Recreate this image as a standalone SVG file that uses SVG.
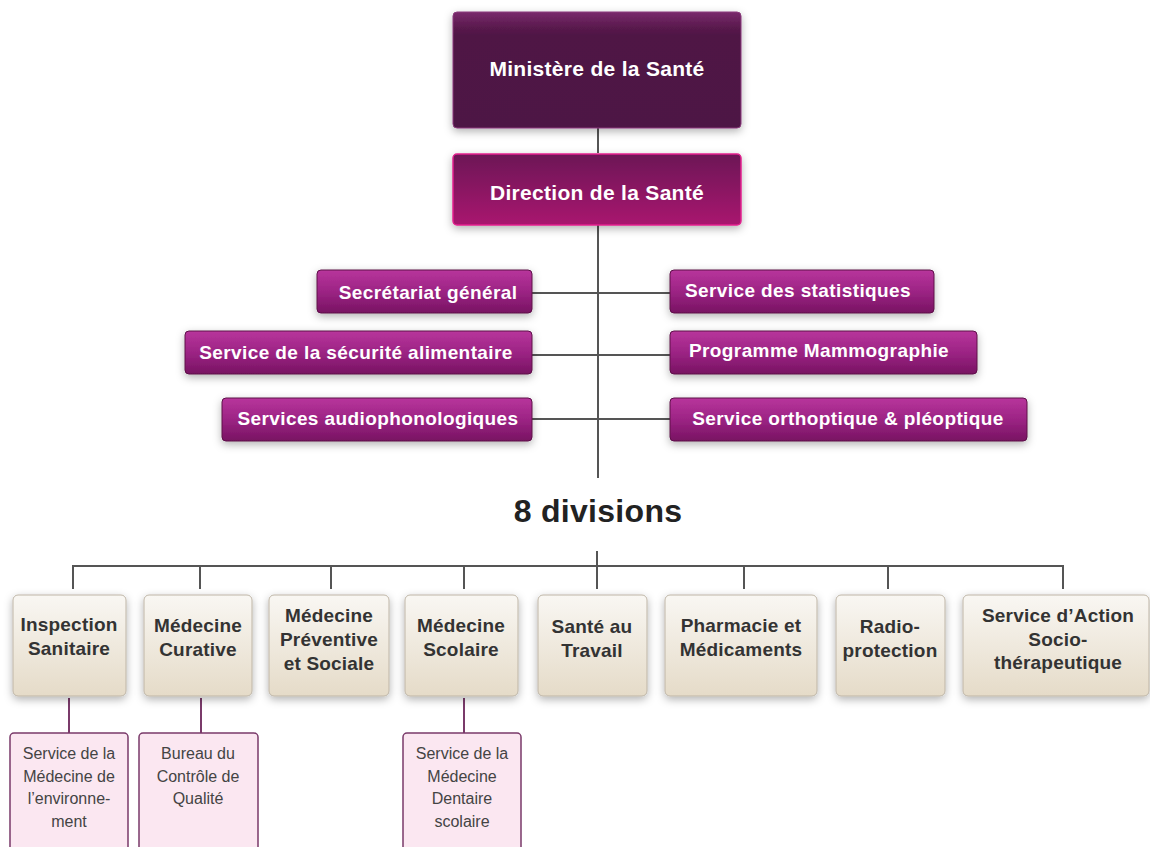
<svg xmlns="http://www.w3.org/2000/svg" width="1150" height="847" viewBox="0 0 1150 847">
<defs>
<linearGradient id="gMin" x1="0" y1="0" x2="0" y2="1">
<stop offset="0" stop-color="#7a2a6c"/><stop offset="0.13" stop-color="#5a1a4e"/><stop offset="0.2" stop-color="#4f1745"/><stop offset="1" stop-color="#4e1744"/>
</linearGradient>
<linearGradient id="gDir" x1="0" y1="0" x2="0" y2="1">
<stop offset="0" stop-color="#6c1656"/><stop offset="1" stop-color="#a9186f"/>
</linearGradient>
<linearGradient id="gSide" x1="0" y1="0" x2="0" y2="1">
<stop offset="0" stop-color="#b8359c"/><stop offset="0.5" stop-color="#9c2484"/><stop offset="1" stop-color="#781362"/>
</linearGradient>
<linearGradient id="gDiv" x1="0" y1="0" x2="0" y2="1">
<stop offset="0" stop-color="#f9f7f3"/><stop offset="1" stop-color="#e5dbc8"/>
</linearGradient>
<filter id="sh" x="-20%" y="-20%" width="140%" height="150%">
<feDropShadow dx="0" dy="3" stdDeviation="4" flood-color="#000" flood-opacity="0.3"/>
</filter>
</defs>
<style>
.wt{font-family:"Liberation Sans",Arial,sans-serif;font-weight:bold;fill:#fff;text-anchor:middle}
.big{font-size:21px;letter-spacing:0.3px}
.side{font-size:19px;letter-spacing:0.4px}
.dv{font-family:"Liberation Sans",Arial,sans-serif;font-weight:bold;fill:#333;font-size:19px;letter-spacing:0.2px;text-anchor:middle}
.sb{font-family:"Liberation Sans",Arial,sans-serif;fill:#444;font-size:16px;text-anchor:middle}
.bMin{fill:url(#gMin);stroke:#8a3a7c;stroke-width:1}
.bDir{fill:url(#gDir);stroke:#e2228e;stroke-width:1.5}
.bSide{fill:url(#gSide);stroke:#5e1049;stroke-width:1}
.bDiv{fill:url(#gDiv);stroke:#beb5a6;stroke-width:1}
.bSub{fill:#fbe7f1;stroke:#7a3a6a;stroke-width:1.5}
.ln{stroke:#555;stroke-width:2;fill:none}
.lp{stroke:#7a3a6a;stroke-width:2;fill:none}
</style>
<rect width="1150" height="847" fill="#fff"/>

<g id="connectors">
<line class="ln" x1="598" y1="128" x2="598" y2="153"/>
<line class="ln" x1="598" y1="225" x2="598" y2="478"/>
<line class="ln" x1="532" y1="293" x2="670" y2="293"/>
<line class="ln" x1="532" y1="355" x2="670" y2="355"/>
<line class="ln" x1="532" y1="419" x2="670" y2="419"/>
<line class="ln" x1="597" y1="551" x2="597" y2="566"/>
<path class="ln" d="M73 589 V566 H1063 V589"/>
<line class="ln" x1="200" y1="566" x2="200" y2="589"/>
<line class="ln" x1="331" y1="566" x2="331" y2="589"/>
<line class="ln" x1="464" y1="566" x2="464" y2="589"/>
<line class="ln" x1="597" y1="566" x2="597" y2="589"/>
<line class="ln" x1="744" y1="566" x2="744" y2="589"/>
<line class="ln" x1="888" y1="566" x2="888" y2="589"/>
<line class="lp" x1="69" y1="698" x2="69" y2="733"/>
<line class="lp" x1="201" y1="698" x2="201" y2="733"/>
<line class="lp" x1="464" y1="698" x2="464" y2="733"/>
</g>

<g id="ministere">
<rect class="bMin" x="453" y="12" width="288" height="116" rx="4" filter="url(#sh)"/>
<text class="wt big" x="597" y="76">Ministère de la Santé</text>
</g>
<g id="direction">
<rect class="bDir" x="453" y="154" width="288" height="71" rx="4" filter="url(#sh)"/>
<text class="wt big" x="597" y="200">Direction de la Santé</text>
</g>

<g id="secretariat">
<rect class="bSide" x="317" y="270" width="215" height="43" rx="4" filter="url(#sh)"/>
<text class="wt side" x="428" y="299">Secrétariat général</text>
</g>
<g id="securite">
<rect class="bSide" x="185" y="331" width="347" height="43" rx="4" filter="url(#sh)"/>
<text class="wt side" x="356" y="359">Service de la sécurité alimentaire</text>
</g>
<g id="audio">
<rect class="bSide" x="222" y="398" width="310" height="43" rx="4" filter="url(#sh)"/>
<text class="wt side" x="378" y="425">Services audiophonologiques</text>
</g>
<g id="statistiques">
<rect class="bSide" x="670" y="270" width="264" height="43" rx="4" filter="url(#sh)"/>
<text class="wt side" x="798" y="297">Service des statistiques</text>
</g>
<g id="mammographie">
<rect class="bSide" x="670" y="331" width="307" height="43" rx="4" filter="url(#sh)"/>
<text class="wt side" x="819" y="357">Programme Mammographie</text>
</g>
<g id="orthoptique">
<rect class="bSide" x="670" y="398" width="357" height="43" rx="4" filter="url(#sh)"/>
<text class="wt side" x="848" y="425">Service orthoptique &amp; pléoptique</text>
</g>

<g id="divisions-title">
<text x="598" y="522" font-family="Liberation Sans, Arial, sans-serif" font-weight="bold" font-size="32" fill="#222" text-anchor="middle" letter-spacing="0.3">8 divisions</text>
</g>

<g id="inspection">
<rect class="bDiv" x="13" y="595" width="113" height="101" rx="5" filter="url(#sh)"/>
<text class="dv" x="69" y="631">Inspection</text>
<text class="dv" x="69" y="655">Sanitaire</text>
</g>
<g id="curative">
<rect class="bDiv" x="144" y="595" width="108" height="101" rx="5" filter="url(#sh)"/>
<text class="dv" x="198" y="632">Médecine</text>
<text class="dv" x="198" y="656">Curative</text>
</g>
<g id="preventive">
<rect class="bDiv" x="269" y="595" width="120" height="101" rx="5" filter="url(#sh)"/>
<text class="dv" x="329" y="622">Médecine</text>
<text class="dv" x="329" y="646">Préventive</text>
<text class="dv" x="329" y="670">et Sociale</text>
</g>
<g id="scolaire">
<rect class="bDiv" x="405" y="595" width="113" height="101" rx="5" filter="url(#sh)"/>
<text class="dv" x="461" y="632">Médecine</text>
<text class="dv" x="461" y="656">Scolaire</text>
</g>
<g id="travail">
<rect class="bDiv" x="538" y="595" width="109" height="101" rx="5" filter="url(#sh)"/>
<text class="dv" x="592" y="633">Santé au</text>
<text class="dv" x="592" y="657">Travail</text>
</g>
<g id="pharmacie">
<rect class="bDiv" x="665" y="595" width="152" height="101" rx="5" filter="url(#sh)"/>
<text class="dv" x="741" y="632">Pharmacie et</text>
<text class="dv" x="741" y="656">Médicaments</text>
</g>
<g id="radio">
<rect class="bDiv" x="836" y="595" width="109" height="101" rx="5" filter="url(#sh)"/>
<text class="dv" x="890" y="633">Radio-</text>
<text class="dv" x="890" y="657">protection</text>
</g>
<g id="action">
<rect class="bDiv" x="963" y="595" width="186" height="101" rx="5" filter="url(#sh)"/>
<text class="dv" x="1058" y="622">Service d’Action</text>
<text class="dv" x="1058" y="646">Socio-</text>
<text class="dv" x="1058" y="669">thérapeutique</text>
</g>

<g id="sub-environnement">
<rect class="bSub" x="10" y="733" width="118" height="130" rx="4"/>
<text class="sb" x="69" y="759">Service de la</text>
<text class="sb" x="69" y="782">Médecine de</text>
<text class="sb" x="69" y="804">l’environne-</text>
<text class="sb" x="69" y="827">ment</text>
</g>
<g id="sub-qualite">
<rect class="bSub" x="139" y="733" width="119" height="130" rx="4"/>
<text class="sb" x="198" y="759">Bureau du</text>
<text class="sb" x="198" y="782">Contrôle de</text>
<text class="sb" x="198" y="804">Qualité</text>
</g>
<g id="sub-dentaire">
<rect class="bSub" x="403" y="733" width="118" height="130" rx="4"/>
<text class="sb" x="462" y="759">Service de la</text>
<text class="sb" x="462" y="782">Médecine</text>
<text class="sb" x="462" y="804">Dentaire</text>
<text class="sb" x="462" y="827">scolaire</text>
</g>
</svg>
